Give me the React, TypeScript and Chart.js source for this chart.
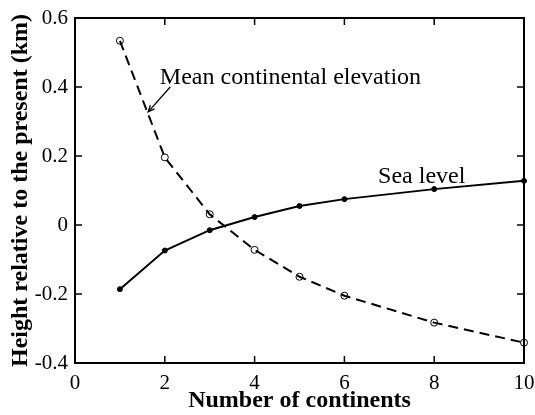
import React, { useEffect, useRef } from "react";
import { Chart, registerables } from "chart.js";

Chart.register(...registerables);

const continents = [1, 2, 3, 4, 5, 6, 8, 10];
const seaLevel = [-0.186, -0.074, -0.015, 0.023, 0.055, 0.075, 0.104, 0.128];
const meanElevation = [0.534, 0.196, 0.031, -0.072, -0.15, -0.205, -0.283, -0.341];
const xTicks = [0, 2, 4, 6, 8, 10];
const yTicks = [-0.4, -0.2, 0, 0.2, 0.4, 0.6];

const SERIF = "'Liberation Serif', 'Times New Roman', serif";

const framePlugin = {
  id: "frame",
  afterDraw(chart: any) {
    const { ctx, chartArea: a, scales } = chart;
    const xs = scales.x;
    const ys = scales.y;
    ctx.save();
    ctx.strokeStyle = "#000";
    ctx.lineWidth = 2;
    ctx.strokeRect(a.left, a.top, a.right - a.left, a.bottom - a.top);
    const L = 7;
    ctx.beginPath();
    for (const t of xTicks) {
      const px = xs.getPixelForValue(t);
      ctx.moveTo(px, a.bottom);
      ctx.lineTo(px, a.bottom - L);
      ctx.moveTo(px, a.top);
      ctx.lineTo(px, a.top + L);
    }
    for (const t of yTicks) {
      const py = ys.getPixelForValue(t);
      ctx.moveTo(a.left, py);
      ctx.lineTo(a.left + L, py);
      ctx.moveTo(a.right, py);
      ctx.lineTo(a.right - L, py);
    }
    ctx.lineWidth = 1.5;
    ctx.stroke();

    // annotations
    ctx.fillStyle = "#000";
    ctx.font = `24px ${SERIF}`;
    ctx.textBaseline = "alphabetic";
    ctx.textAlign = "left";
    ctx.fillText("Mean continental elevation", xs.getPixelForValue(1.89), ys.getPixelForValue(0.41));
    ctx.fillText("Sea level", xs.getPixelForValue(6.75), ys.getPixelForValue(0.122));

    // arrow
    const x0 = xs.getPixelForValue(2.12), y0 = ys.getPixelForValue(0.40);
    const x1 = xs.getPixelForValue(1.63), y1 = ys.getPixelForValue(0.328);
    ctx.lineWidth = 1.3;
    ctx.beginPath();
    ctx.moveTo(x0, y0);
    ctx.lineTo(x1, y1);
    ctx.stroke();
    const ang = Math.atan2(y1 - y0, x1 - x0);
    const h = 7;
    ctx.beginPath();
    ctx.moveTo(x1 - h * Math.cos(ang - 0.4), y1 - h * Math.sin(ang - 0.4));
    ctx.lineTo(x1, y1);
    ctx.lineTo(x1 - h * Math.cos(ang + 0.4), y1 - h * Math.sin(ang + 0.4));
    ctx.stroke();
    ctx.restore();
  },
};

export default function App() {
  const ref = useRef<HTMLCanvasElement>(null);
  useEffect(() => {
    const chart = new Chart(ref.current!, {
      type: "line",
      data: {
        datasets: [
          {
            label: "Sea level",
            data: continents.map((c, i) => ({ x: c, y: seaLevel[i] })),
            borderColor: "#000",
            backgroundColor: "#000",
            borderWidth: 2,
            pointRadius: 2.5,
            pointBorderWidth: 1,
            pointStyle: "circle",
            clip: false as any,
          },
          {
            label: "Mean continental elevation",
            data: continents.map((c, i) => ({ x: c, y: meanElevation[i] })),
            borderColor: "#000",
            backgroundColor: "rgba(0,0,0,0)",
            borderWidth: 2,
            borderDash: [10, 6],
            pointRadius: 3.5,
            pointBorderWidth: 1,
            clip: false as any,
          },
        ],
      },
      options: {
        responsive: false,
        animation: false,
        layout: { padding: { top: 18, right: 11, left: 0, bottom: 0 } },
        plugins: { legend: { display: false }, tooltip: { enabled: false } },
        scales: {
          x: {
            type: "linear",
            min: 0,
            max: 10,
            grid: { display: false, drawTicks: false },
            border: { display: false },
            afterBuildTicks: (s: any) => {
              s.ticks = xTicks.map((v) => ({ value: v }));
            },
            afterFit: (s: any) => {
              s.height = 52;
              s.paddingLeft = 0;
              s.paddingRight = 0;
            },
            ticks: {
              color: "#000",
              padding: 8,
              font: { family: SERIF, size: 21 },
              maxRotation: 0,
              callback: (v: any) => String(v),
            },
            title: {
              display: true,
              text: "Number of continents",
              color: "#000",
              font: { family: SERIF, size: 24, weight: "bold", lineHeight: 1.2 },
              padding: { top: 0, bottom: 0 },
            },
          },
          y: {
            type: "linear",
            min: -0.4,
            max: 0.6,
            grid: { display: false, drawTicks: false },
            border: { display: false },
            afterBuildTicks: (s: any) => {
              s.ticks = yTicks.map((v) => ({ value: v }));
            },
            afterFit: (s: any) => {
              s.width = 75;
              s.paddingTop = 0;
              s.paddingBottom = 0;
            },
            ticks: {
              color: "#000",
              padding: 7,
              font: { family: SERIF, size: 21 },
              callback: (v: any) => {
                const n = Math.round(Number(v) * 10) / 10;
                return n === 0 ? "0" : String(n);
              },
            },
            title: {
              display: true,
              text: "Height relative to the present (km)",
              color: "#000",
              font: { family: SERIF, size: 24, weight: "bold", lineHeight: 1.2 },
              padding: { top: 6, bottom: 0 },
            },
          },
        },
      },
      plugins: [framePlugin],
    });
    return () => chart.destroy();
  }, []);
  return (
    <div style={{ position: "absolute", left: 0, top: 0, width: 535, height: 415, background: "#fff" }}>
      <canvas ref={ref} width={535} height={415} />
    </div>
  );
}
